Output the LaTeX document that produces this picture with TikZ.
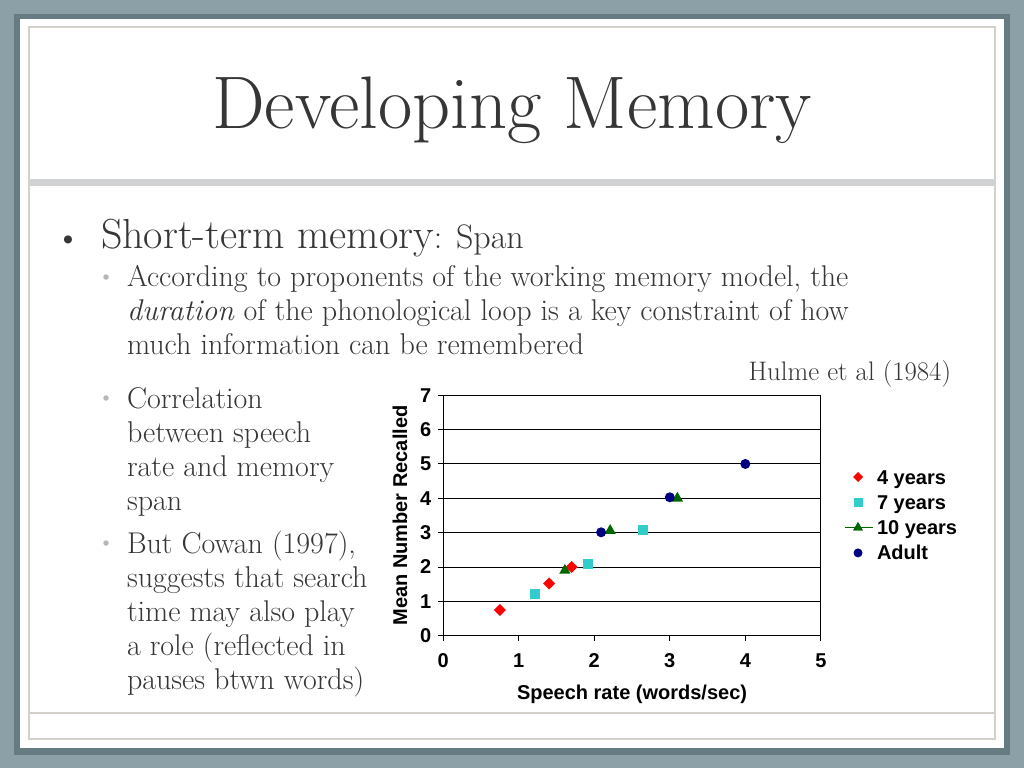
\documentclass[tikz,border=0pt]{standalone}
\usepackage{fontspec}
\newfontfamily\chartfont{Liberation Sans}
\usetikzlibrary{positioning}
\usetikzlibrary{shapes.geometric}

\definecolor{slidebg}{HTML}{8BA0A7}
\definecolor{slideshadow}{HTML}{667B82}
\definecolor{framegrey}{HTML}{D3D0CB}
\definecolor{bandgrey}{HTML}{D0D2D4}
\definecolor{txtgrey}{HTML}{363636}
\definecolor{dotgrey}{HTML}{B4B8BA}
\definecolor{cyanmark}{HTML}{33CCCC}
\definecolor{greenmark}{HTML}{006600}
\definecolor{navymark}{HTML}{000080}

\begin{document}
\begin{tikzpicture}[x=1pt,y=-1pt,
    every node/.style={inner sep=0pt, outer sep=0pt},
    slidetext/.style={text=txtgrey, anchor=base west, align=left,
      font=\fontsize{30}{34}\selectfont},
    subdot/.style={circle, fill=dotgrey, minimum size=5.5pt},
    charttext/.style={font=\chartfont\bfseries\fontsize{20}{23}\selectfont},
    fouryr/.style={diamond, fill=red, minimum width=12pt, minimum height=12pt},
    sevenyr/.style={rectangle, fill=cyanmark, minimum size=10pt},
    tenyr/.style={regular polygon, regular polygon sides=3, fill=greenmark, minimum size=13pt},
    adult/.style={circle, fill=navymark, minimum size=10pt}]

    % slide background and panel
    \fill [slidebg] (0,0) rectangle (1024,768);
    \fill [slideshadow] (14,14) rectangle (1010,755);
    \fill [white] (20,19) rectangle (1004,748);
    \draw [framegrey, line width=1.2pt] (29,27) rectangle (995,739);
    \fill [bandgrey] (29,179) rectangle (995,186);
    \draw [framegrey, line width=1.2pt] (29,713) -- (995,713);

    \node (title) [text=txtgrey, anchor=base, font=\fontsize{74.5}{80}\selectfont] at (512,128)
      {Developing Memory};

    % bullets (base anchor sits on the last line)
    \node (b1dot) [text=txtgrey, anchor=base, font=\fontsize{36}{38}\selectfont] at (68,249) {\textbullet};
    \node (b1) [slidetext, font=\fontsize{42}{44}\selectfont] at (101,248)
      {Short-term memory{\fontsize{34}{36}\selectfont: Span}};

    \node (b2dot) [subdot] at (106,277) {};
    \node (b2) [slidetext] at (127,354)
      {According to proponents of the working memory model, the\\
       \textit{duration} of the phonological loop is a key constraint of how\\
       much information can be remembered};

    \node (b3dot) [subdot] at (106,398) {};
    \node (b3) [slidetext] at (127,510)
      {Correlation\\ between speech\\ rate and memory\\ span};

    \node (b4dot) [subdot] at (106,543) {};
    \node (b4) [slidetext] at (127,689)
      {But Cowan (1997),\\ suggests that search\\ time may also play\\
       a role (reflected in\\ pauses btwn words)};

    \node (cite) [text=txtgrey, anchor=base east, font=\fontsize{26.8}{30}\selectfont] at (951,380)
      {Hulme et al (1984)};

    % chart
    \begin{scope}[shift={(443.3,635.7)}, x=75.5pt, y=34.35pt]
      \foreach \g in {1,...,6}
        \draw [black, line width=1pt] (0,\g) -- (5,\g);
      \draw [black, line width=1pt] (0,0) rectangle (5,7);
      \foreach \t in {0,...,5} {
        \draw [black, line width=1pt] (\t,0) -- ++(0pt,-5pt);
        \node (xt\t) [charttext, anchor=north] at ([yshift=-18pt]\t,0) {\t};
      }
      \foreach \t in {0,...,7} {
        \draw [black, line width=1pt] (0,\t) -- ++(-5pt,0pt);
        \node (yt\t) [charttext, anchor=east] at ([xshift=-12pt]0,\t) {\t};
      }
      \node (xlab) [charttext, anchor=north] at ([yshift=-49pt]2.5,0) {Speech rate (words/sec)};
      \node (ylab) [charttext, rotate=90, anchor=south] at ([xshift=-36pt]0,3.5) {Mean Number Recalled};

      \node (p4a) [fouryr] at (0.75,0.75) {};
      \node (p4b) [fouryr] at (1.40,1.52) {};
      \node (p4c) [fouryr] at (1.70,2.00) {};
      \node (p7a) [sevenyr] at (1.21,1.20) {};
      \node (p7b) [sevenyr] at (1.91,2.10) {};
      \node (p7c) [sevenyr] at (2.65,3.07) {};
      \node (p10a) [tenyr] at (1.61,1.90) {};
      \node (p10b) [tenyr] at (2.21,3.06) {};
      \node (p10c) [tenyr] at (3.10,4.00) {};
      \node (pada) [adult] at (2.09,3.01) {};
      \node (padb) [adult] at (3.00,4.03) {};
      \node (padc) [adult] at (4.00,5.00) {};
    \end{scope}

    % legend
    \node (l4) [charttext, anchor=base west] at (877,484) {4 years};
    \node (l7) [charttext, below = 25.3pt of l4.base west, anchor=base west] {7 years};
    \node (l10) [charttext, below = 25.3pt of l7.base west, anchor=base west] {10 years};
    \node (lad) [charttext, below = 25.3pt of l10.base west, anchor=base west] {Adult};

    \node (m4) [fouryr, minimum width=10pt, minimum height=10pt] at (858,477) {};
    \node (m7) [sevenyr, minimum size=9pt] at ([yshift=-25.3pt]m4) {};
    \node (m10) [tenyr, minimum size=11pt] at ([yshift=-25.3pt]m7) {};
    \coordinate (m10l) at ([xshift=-13pt]m10.center);
    \coordinate (m10r) at ([xshift=15pt]m10.center);
    \draw [greenmark, line width=1.5pt] (m10l) -- (m10r);
    \node (m10b) [tenyr, minimum size=11pt] at (m10) {};
    \node (mad) [adult, minimum size=9pt] at ([yshift=-25.3pt]m10) {};
\end{tikzpicture}
\end{document}
